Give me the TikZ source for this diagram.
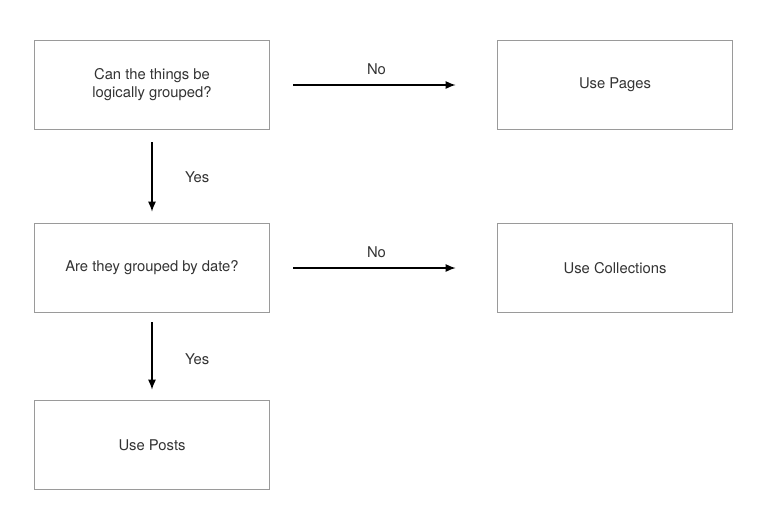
\documentclass[tikz,border=0pt]{standalone}
\usepackage{fontspec}
\setmainfont{TeX Gyre Heros}
\usetikzlibrary{arrows.meta}
\begin{document}
\begin{tikzpicture}[x=1pt,y=-1pt,
  box/.style={draw=boxgray, line width=1.6pt, minimum width=235pt, minimum height=89pt, inner sep=0pt, align=center, font=\fontsize{14.8}{18}\selectfont, text=txtgray},
  conn/.style={line width=1.4pt, -{Latex[length=10pt,width=8pt]}},
  lbl/.style={font=\fontsize{14.8}{17}\selectfont, text=txtgray}]
\definecolor{boxgray}{HTML}{9A9A9A}
\definecolor{txtgray}{HTML}{333333}
\useasboundingbox (0,0) rectangle (768,531);
\node[box] (q1) at (152,85) {Can the things be\\logically grouped?};
\node[box] (pages) at (615,85) {Use Pages};
\node[box] (q2) at (152,268) {Are they grouped by date?};
\node[box] (coll) at (615,268) {Use Collections};
\node[box] (posts) at (152,445) {Use Posts};
\draw[conn, shorten <=23pt, shorten >=41pt] (q1.east) -- (pages.west) node[lbl, midway, above=6pt, xshift=-7pt] (no1) {No};
\draw[conn, shorten <=23pt, shorten >=41pt] (q2.east) -- (coll.west) node[lbl, midway, above=6pt, xshift=-7pt] (no2) {No};
\draw[conn, shorten <=12pt, shorten >=11pt] (q1.south) -- (q2.north) node[lbl, midway, right=29pt, yshift=-1pt] (yes1) {Yes};
\draw[conn, shorten <=9pt, shorten >=10pt] (q2.south) -- (posts.north) node[lbl, midway, right=29pt, yshift=-3pt] (yes2) {Yes};
\end{tikzpicture}
\end{document}
